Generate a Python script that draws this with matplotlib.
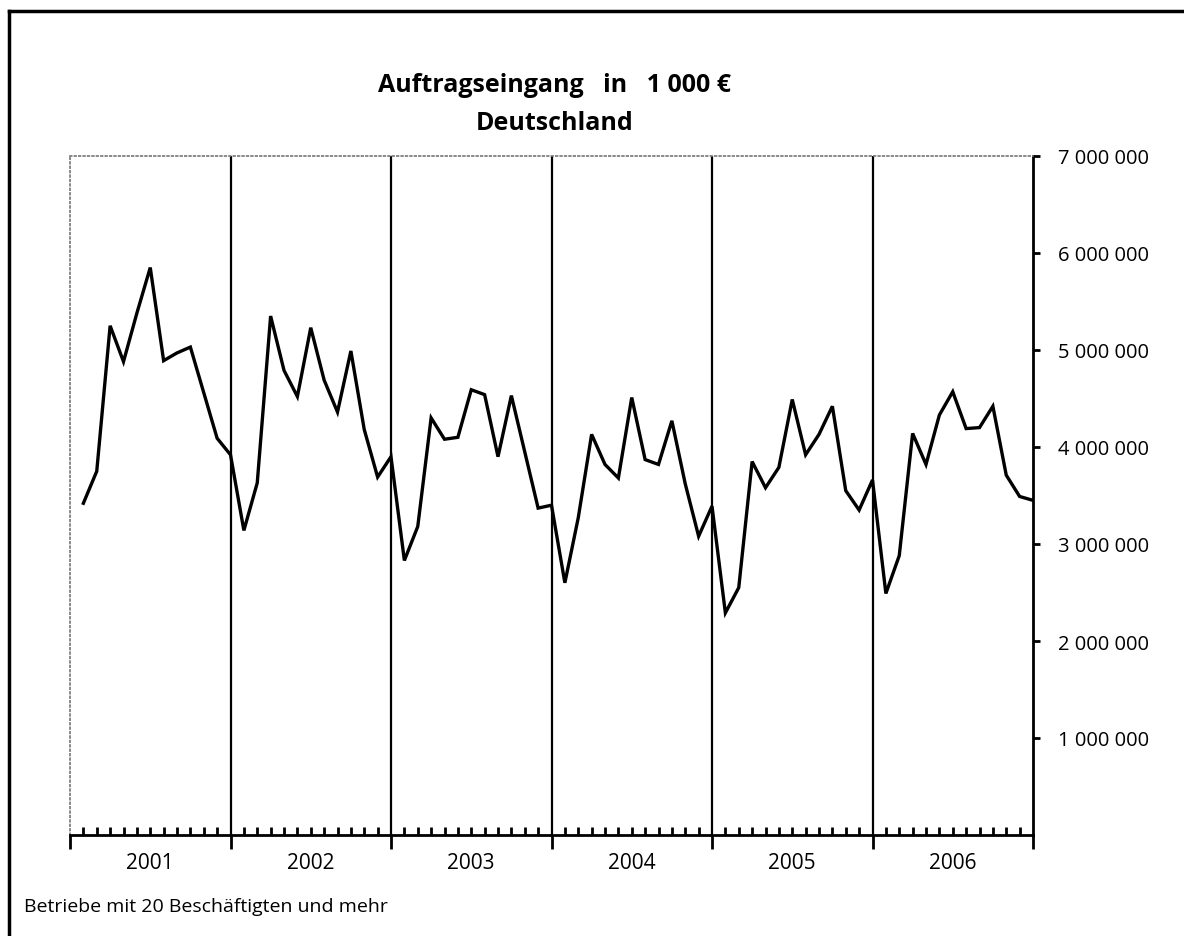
import matplotlib
matplotlib.use("Agg")
import matplotlib.pyplot as plt
from matplotlib.lines import Line2D
from matplotlib.ticker import FixedLocator, FuncFormatter

plt.rcParams["font.family"] = ["Open Sans", "DejaVu Sans"]

# Auftragseingang in 1 000 EUR, monthly 2001-2006
years = ["2001", "2002", "2003", "2004", "2005", "2006"]
values_2001 = [3420000, 3750000, 5250000, 4880000, 5380000, 5850000,
               4890000, 4970000, 5030000, 4560000, 4090000, 3920000]
values_2002 = [3140000, 3630000, 5350000, 4790000, 4520000, 5230000,
               4690000, 4360000, 4990000, 4180000, 3690000, 3900000]
values_2003 = [2830000, 3180000, 4300000, 4080000, 4100000, 4590000,
               4540000, 3900000, 4530000, 3950000, 3370000, 3400000]
values_2004 = [2600000, 3270000, 4130000, 3820000, 3680000, 4510000,
               3870000, 3820000, 4270000, 3620000, 3080000, 3390000]
values_2005 = [2290000, 2550000, 3850000, 3580000, 3790000, 4490000,
               3920000, 4130000, 4420000, 3550000, 3350000, 3660000]
values_2006 = [2490000, 2880000, 4140000, 3820000, 4330000, 4570000,
               4190000, 4200000, 4420000, 3710000, 3490000, 3450000]
y_ticks = [1000000, 2000000, 3000000, 4000000, 5000000, 6000000, 7000000]

values = values_2001 + values_2002 + values_2003 + values_2004 + values_2005 + values_2006
months = list(range(1, len(values) + 1))

fig = plt.figure(figsize=(11.84, 9.37), dpi=100)
ax = fig.add_axes([70 / 1184, 1 - 836 / 937, 963 / 1184, 679 / 937])

ax.plot(months, values, color="black", lw=2.4, solid_joinstyle="miter", zorder=3)

# year separators
for i in range(1, len(years)):
    ax.axvline(12 * i, color="black", lw=1.6, zorder=2)

ax.set_xlim(0, 12 * len(years))
ax.set_ylim(0, 7000000)

# spines
for side in ["top", "left"]:
    ax.spines[side].set_linestyle(":")
    ax.spines[side].set_color("#777777")
    ax.spines[side].set_linewidth(1.2)
ax.spines["right"].set_linewidth(2)
ax.spines["bottom"].set_linewidth(2)

# y axis on the right
ax.yaxis.tick_right()
ax.yaxis.set_major_locator(FixedLocator(y_ticks))
ax.yaxis.set_major_formatter(FuncFormatter(lambda v, p: f"{int(v):,}".replace(",", " ")))
ax.tick_params(axis="y", which="major", direction="out", length=5, width=2,
               labelsize=14.5, pad=13)

# x axis: year boundaries down, months up
ax.xaxis.set_major_locator(FixedLocator([12 * i for i in range(len(years) + 1)]))
ax.xaxis.set_minor_locator(FixedLocator([m for m in range(1, 72) if m % 12 != 0]))
ax.tick_params(axis="x", which="major", direction="out", length=10, width=2, labelbottom=False)
ax.tick_params(axis="x", which="minor", direction="in", length=6, width=2)

for i, yr in enumerate(years):
    ax.text(12 * i + 6, -0.041, yr, transform=ax.get_xaxis_transform(),
            ha="center", va="center", fontsize=15)

fig.text(555 / 1184, 1 - 86 / 937, "Auftragseingang   in   1 000 €",
         ha="center", va="center", fontsize=18, fontweight="bold")
fig.text(555 / 1184, 1 - 123 / 937, "Deutschland",
         ha="center", va="center", fontsize=18, fontweight="bold")
fig.text(24 / 1184, 1 - 907 / 937, "Betriebe mit 20 Beschäftigten und mehr",
         ha="left", va="center", fontsize=14)

# outer frame (top and left edges)
fig.add_artist(Line2D([9 / 1184, 1], [1 - 12 / 937, 1 - 12 / 937],
                      transform=fig.transFigure, color="black", lw=2.5))
fig.add_artist(Line2D([9 / 1184, 9 / 1184], [0, 1 - 12 / 937],
                      transform=fig.transFigure, color="black", lw=2.5))

fig.savefig("out.png", dpi=100)
